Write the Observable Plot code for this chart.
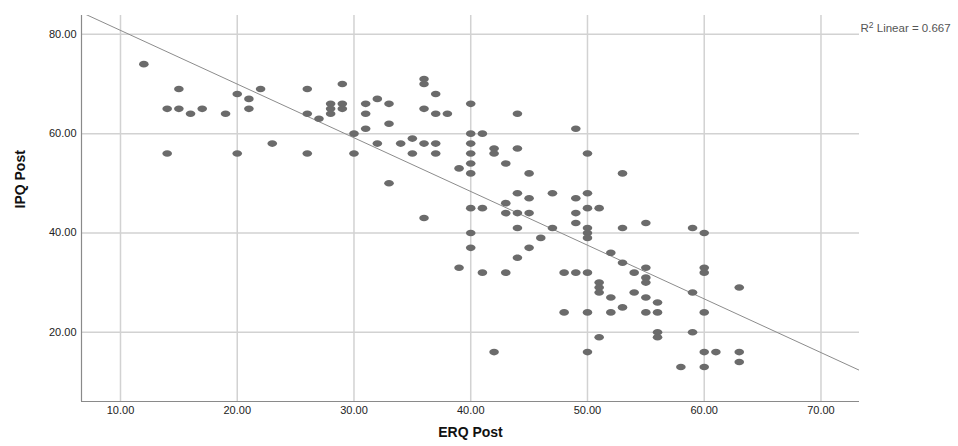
<!DOCTYPE html>
<html>
<head>
<meta charset="utf-8">
<script src="https://cdn.jsdelivr.net/npm/d3@7"></script>
<script src="https://cdn.jsdelivr.net/npm/@observablehq/plot@0.6"></script>
<style>
  html, body { margin: 0; padding: 0; background: #fff; }
  #chart svg { display: block; }
</style>
</head>
<body>
<div id="chart"></div>
<script>
// ERQ Post (x) and IPQ Post (y) values
const erqPost = [
  12, 14, 14, 15, 15, 16, 17, 19, 20, 20, 21, 21, 22, 23, 26, 26, 26, 27,
  28, 28, 28, 29, 29, 29, 30, 30, 31, 31, 31, 32, 32, 33, 33, 33, 34, 35, 35,
  36, 36, 36, 36, 36, 37, 37, 37, 37, 38, 39, 39,
  40, 40, 40, 40, 40, 40, 40, 40, 40, 41, 41, 41, 42, 42, 42,
  43, 43, 43, 43, 44, 44, 44, 44, 44, 44, 45, 45, 45, 45, 46, 47, 47, 48, 48,
  49, 49, 49, 49, 49, 50, 50, 50, 50, 50, 50, 50, 50, 50,
  51, 51, 51, 51, 51, 52, 52, 52, 53, 53, 53, 53, 54, 54,
  55, 55, 55, 55, 55, 55, 56, 56, 56, 56, 58, 59, 59, 59,
  60, 60, 60, 60, 60, 60, 61, 63, 63, 63
];
const ipqPost = [
  74, 65, 56, 69, 65, 64, 65, 64, 68, 56, 67, 65, 69, 58, 69, 64, 56, 63,
  66, 65, 64, 70, 66, 65, 60, 56, 66, 64, 61, 67, 58, 66, 62, 50, 58, 59, 56,
  71, 70, 65, 58, 43, 68, 64, 58, 56, 64, 53, 33,
  66, 60, 58, 56, 54, 52, 45, 40, 37, 60, 45, 32, 57, 56, 16,
  54, 46, 44, 32, 64, 57, 48, 44, 41, 35, 52, 47, 44, 37, 39, 48, 41, 32, 24,
  61, 47, 44, 42, 32, 56, 48, 45, 41, 40, 39, 32, 24, 16,
  45, 30, 29, 28, 19, 36, 27, 24, 52, 41, 34, 25, 32, 28,
  42, 33, 31, 30, 27, 24, 26, 24, 20, 19, 13, 41, 28, 20,
  40, 33, 32, 24, 16, 13, 16, 29, 16, 14
];
const xTicks = [10, 20, 30, 40, 50, 60, 70];
const yTicks = [20, 40, 60, 80];
const xDomain = [6.66, 73.3];
const yDomain = [6.05, 83.8];
const fitLabel = "R\u00B2 Linear = 0.667";
const xLabel = "ERQ Post";
const yLabel = "IPQ Post";

const points = erqPost.map((x, i) => ({x, y: ipqPost[i]}));

// least-squares fit computed from the points
const mx = d3.mean(points, d => d.x), my = d3.mean(points, d => d.y);
const slope = d3.sum(points, d => (d.x - mx) * (d.y - my)) / d3.sum(points, d => (d.x - mx) ** 2);
const intercept = my - slope * mx;
const fitLine = xDomain.map(x => ({x, y: intercept + slope * x}));

const ellipse = {
  draw(ctx) {
    const a = 4.8, b = 3.3, k = 0.5523;
    ctx.moveTo(a, 0);
    ctx.bezierCurveTo(a, b * k, a * k, b, 0, b);
    ctx.bezierCurveTo(-a * k, b, -a, b * k, -a, 0);
    ctx.bezierCurveTo(-a, -b * k, -a * k, -b, 0, -b);
    ctx.bezierCurveTo(a * k, -b, a, -b * k, a, 0);
    ctx.closePath();
  }
};

const chart = Plot.plot({
  width: 958,
  height: 446,
  marginLeft: 81,
  marginRight: 99,
  marginTop: 15,
  marginBottom: 45,
  style: {fontFamily: "'Liberation Sans', Arial, sans-serif", fontSize: "11px", color: "#222", background: "#fff"},
  x: {domain: xDomain},
  y: {domain: yDomain},
  marks: [
    Plot.gridX(xTicks, {stroke: "#d2d2d2", strokeOpacity: 1, strokeWidth: 1.5}),
    Plot.gridY(yTicks, {stroke: "#d2d2d2", strokeOpacity: 1, strokeWidth: 1.5}),
    Plot.ruleX([xDomain[0]], {stroke: "#8a8a8a", strokeWidth: 1.2}),
    Plot.ruleY([yDomain[0]], {stroke: "#8a8a8a", strokeWidth: 1.2}),
    Plot.axisX(xTicks, {tickSize: 0, tickPadding: 5, tickFormat: d => d.toFixed(2), label: null, fill: "#222"}),
    Plot.axisY(yTicks, {tickSize: 0, tickPadding: 5, tickFormat: d => d.toFixed(2), label: null, fill: "#222"}),
    Plot.line(fitLine, {x: "x", y: "y", stroke: "#8c8c8c", strokeWidth: 1, clip: true}),
    Plot.dot(points, {x: "x", y: "y", symbol: ellipse, fill: "#6b6b6b", stroke: "none"}),
    Plot.text([fitLabel], {frameAnchor: "top-right", textAnchor: "start", dx: 1, dy: 8, fontSize: 11.5, fill: "#555"}),
    Plot.text([xLabel], {frameAnchor: "bottom", dy: 35, fontSize: 14, fontWeight: "bold", fill: "#111"}),
    Plot.text([yLabel], {frameAnchor: "left", rotate: -90, dx: -61, fontSize: 14, fontWeight: "bold", fill: "#111"})
  ]
});
document.getElementById("chart").appendChild(chart);

// render the "2" of R² as a real superscript
chart.querySelectorAll("text").forEach(t => {
  if (t.textContent === fitLabel) {
    const parts = fitLabel.split("\u00B2");
    t.textContent = "";
    const ns = "http://www.w3.org/2000/svg";
    const a = document.createElementNS(ns, "tspan"); a.textContent = parts[0];
    const s = document.createElementNS(ns, "tspan"); s.textContent = "2";
    s.setAttribute("font-size", "8.5"); s.setAttribute("dy", "-4");
    const b = document.createElementNS(ns, "tspan"); b.textContent = parts[1];
    b.setAttribute("dy", "4");
    t.append(a, s, b);
  }
});
</script>
</body>
</html>
